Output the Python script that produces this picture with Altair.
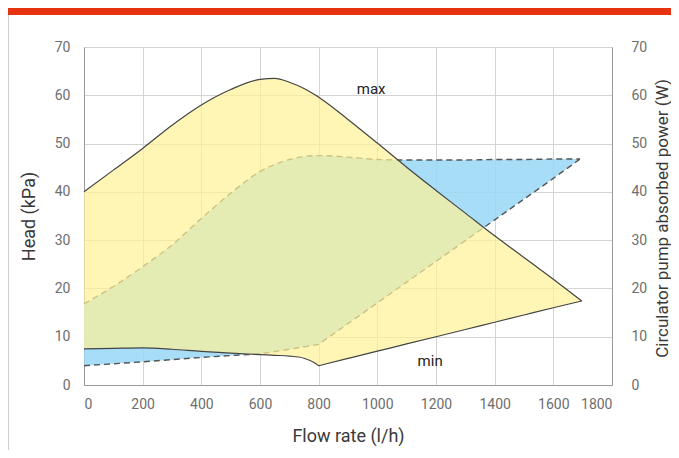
import altair as alt
import pandas as pd

# Head curves (kPa) vs flow rate (l/h)
flow_head = [0, 100, 200, 300, 400, 500, 600, 650, 700, 750, 790, 800, 810, 900, 1000,
             1100, 1200, 1300, 1400, 1500, 1600, 1697]
head_max = [40.0, 44.5, 49.0, 53.8, 58.0, 61.2, 63.3, 63.5, 62.7, 61.4, 60.0, 59.6, 59.2,
            55.0, 50.1, 45.1, 40.3, 35.6, 30.9, 26.4, 21.9, 17.4]
head_min = [7.5, 7.6, 7.7, 7.4, 6.95, 6.6, 6.3, 6.15, 6.0, 5.55, 4.45, 4.0, 4.15, 5.5, 7.0,
            8.5, 10.0, 11.5, 13.0, 14.5, 16.0, 17.4]

# Absorbed power curves (W) vs flow rate (l/h)
flow_power = [0, 100, 200, 300, 400, 500, 600, 700, 790, 800, 810, 900, 1000, 1100, 1200,
              1300, 1400, 1500, 1600, 1691]
power_max = [16.8, 20.4, 24.5, 29.0, 34.5, 39.7, 44.2, 46.7, 47.5, 47.5, 47.5, 47.2, 46.7,
             46.6, 46.6, 46.6, 46.7, 46.7, 46.8, 46.8]
power_min = [4.0, 4.4, 4.8, 5.25, 5.7, 6.1, 6.5, 7.4, 8.3, 8.4, 8.85, 12.7, 17.0, 21.3, 25.6,
             29.9, 34.2, 38.5, 42.8, 46.8]

label_text = ["max", "min"]
label_flow = [979, 1180]
label_val = [61.4, 5.0]

x_ticks = list(range(0, 1801, 200))
y_ticks = list(range(0, 71, 10))

head_df = pd.DataFrame({"flow": flow_head, "hmax": head_max, "hmin": head_min})
power_df = pd.DataFrame({"flow": flow_power, "pmax": power_max, "pmin": power_min})
label_df = pd.DataFrame({"t": label_text, "flow": label_flow, "v": label_val})

FONT = "Roboto"
W, H = 528, 338
PAD = {"left": 76, "top": 39, "right": 59, "bottom": 65}

xs = alt.Scale(domain=[0, 1800], nice=False)
x_enc = alt.X("flow:Q", scale=xs,
              axis=alt.Axis(values=x_ticks, title="Flow rate (l/h)", ticks=False, format="d",
                            labelPadding=12, titlePadding=16, grid=True))


def yscale():
    return alt.Scale(domain=[0, 70], nice=False)


left_axis = alt.Axis(values=y_ticks, title="Head (kPa)", ticks=False, labelPadding=14,
                     titlePadding=16, grid=True, orient="left", format="d")
right_axis = alt.Axis(values=y_ticks, title="Circulator pump absorbed power (W)",
                      ticks=False, labelPadding=19, grid=False, orient="right", format="d",
                      titleAngle=270, titleBaseline="middle", titleAlign="center",
                      titleX=50, titleY=H / 2 + 2, titleFontSize=17)

power_area = alt.Chart(power_df).mark_area(
    color="#98D7F5", opacity=0.85, interpolate="monotone"
).encode(
    x=x_enc,
    y=alt.Y("pmax:Q", scale=yscale(), axis=right_axis),
    y2="pmin:Q",
)

dash = [6, 4]
power_top = alt.Chart(power_df).mark_line(
    color="#555555", strokeWidth=1.4, strokeDash=dash, interpolate="monotone"
).encode(x="flow:Q", y=alt.Y("pmax:Q", scale=yscale(), axis=None))
power_bot = alt.Chart(power_df).mark_line(
    color="#555555", strokeWidth=1.4, strokeDash=dash, interpolate="monotone"
).encode(x="flow:Q", y=alt.Y("pmin:Q", scale=yscale(), axis=None))

head_area = alt.Chart(head_df).mark_area(
    color="#FFF297", opacity=0.7, interpolate="monotone"
).encode(
    x="flow:Q",
    y=alt.Y("hmax:Q", scale=yscale(), axis=left_axis),
    y2="hmin:Q",
)
head_top = alt.Chart(head_df).mark_line(
    color="#444444", strokeWidth=1.2, interpolate="monotone"
).encode(x="flow:Q", y=alt.Y("hmax:Q", scale=yscale(), axis=None))
head_bot = alt.Chart(head_df).mark_line(
    color="#444444", strokeWidth=1.2, interpolate="monotone"
).encode(x="flow:Q", y=alt.Y("hmin:Q", scale=yscale(), axis=None))

labels = alt.Chart(label_df).mark_text(
    font=FONT, fontSize=15, color="#222222"
).encode(x="flow:Q", y=alt.Y("v:Q", scale=yscale(), axis=None), text="t:N")

blank = alt.Data(values=[{"a": 1}])
red_bar = alt.Chart(blank).mark_rect(color="#E63312").encode(
    x=alt.value(-PAD["left"]), x2=alt.value(W + PAD["right"]),
    y=alt.value(-PAD["top"]), y2=alt.value(-PAD["top"] + 7),
)
side_line = alt.Chart(blank).mark_rule(color="#cfcfcf", strokeWidth=1).encode(
    x=alt.value(-PAD["left"] + 0.5), y=alt.value(-PAD["top"] + 7), y2=alt.value(H + PAD["bottom"]),
)

chart = alt.layer(
    power_area, power_top, power_bot, head_area, head_top, head_bot, labels, red_bar, side_line
).resolve_scale(y="independent").properties(
    width=W, height=H, padding=PAD, autosize=alt.AutoSizeParams(type="none"),
    background="white",
).configure_view(
    stroke="#aaaaaa", strokeWidth=1
).configure_axis(
    labelFont=FONT, labelFontSize=14, labelColor="#6e6e6e",
    titleFont=FONT, titleFontSize=18, titleColor="#3a3a3a", titleFontWeight="normal",
    gridColor="#d4d4d4", gridWidth=1, domainColor="#999999", domainWidth=1,
)

chart.save("out.html", embed_options={"renderer": "svg", "actions": False})
